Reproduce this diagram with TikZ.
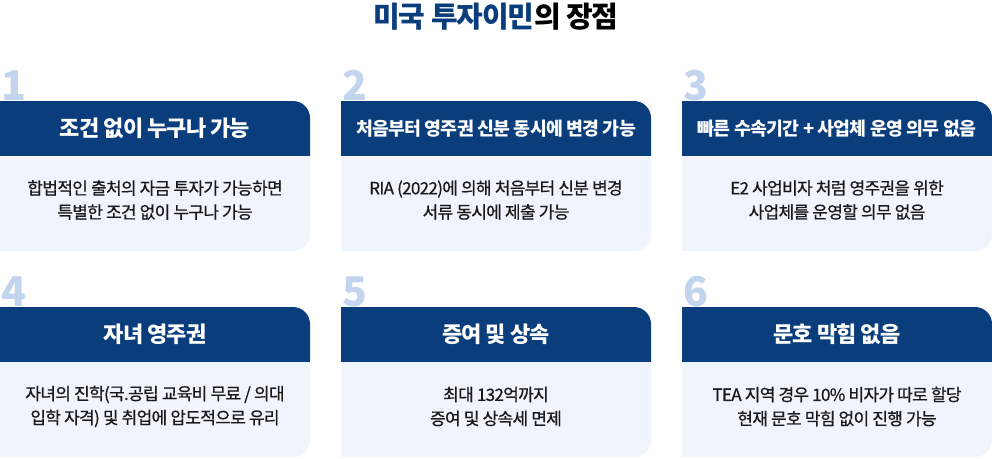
\documentclass[tikz,border=0pt]{standalone}
\usepackage{fontspec}
\setmainfont{Noto Sans CJK KR}[LetterSpace=-4]
\usepackage{tikz}
\usepackage{color}
\usetikzlibrary{positioning}

\definecolor{navy}{RGB}{10,61,124}
\definecolor{paleblue}{RGB}{240,245,253}
\definecolor{numblue}{RGB}{195,212,238}
\definecolor{inkgray}{RGB}{25,25,25}

\tikzset{
  headfill/.style={fill=navy},
  bodyfill/.style={fill=paleblue},
  cardnum/.style={text=numblue, font=\bfseries\fontsize{30.75}{30.75}\selectfont, inner sep=0pt, anchor=base west},
  headtext/.style={text=white, font=\bfseries\fontsize{16.5}{18}\selectfont, inner sep=0.75pt},
  headsmall/.style={headtext, font=\bfseries\fontsize{13.75}{18}\selectfont},
  bodytext/.style={text=inkgray, align=center, font=\fontsize{12.75}{18}\selectfont\addfontfeature{FakeBold=0.7}, inner sep=0.75pt}
}

\begin{document}
\begin{tikzpicture}[x=0.75pt,y=0.75pt,yscale=-1,xscale=1]
\useasboundingbox (0,0) rectangle (992,458);

% Title
\node[inner sep=0.75pt, font=\bfseries\fontsize{21.75}{24}\selectfont] (title) at (496,17) {\textcolor{navy}{미국 투자이민}\textcolor{black}{의 장점}};

%Shape: Card 1
\fill[headfill] (0,156) -- (0,101) -- (293,101) arc[start angle=-90, end angle=0, radius=17] -- (310,156) -- cycle;
\fill[bodyfill] (0,156) -- (310,156) -- (310,234) arc[start angle=0, end angle=90, radius=17] -- (0,251) -- cycle;
%Shape: Card 2
\fill[headfill] (341,156) -- (341,101) -- (634,101) arc[start angle=-90, end angle=0, radius=17] -- (651,156) -- cycle;
\fill[bodyfill] (341,156) -- (651,156) -- (651,234) arc[start angle=0, end angle=90, radius=17] -- (341,251) -- cycle;
%Shape: Card 3
\fill[headfill] (682,156) -- (682,101) -- (975,101) arc[start angle=-90, end angle=0, radius=17] -- (992,156) -- cycle;
\fill[bodyfill] (682,156) -- (992,156) -- (992,234) arc[start angle=0, end angle=90, radius=17] -- (682,251) -- cycle;
%Shape: Card 4
\fill[headfill] (0,362) -- (0,307) -- (293,307) arc[start angle=-90, end angle=0, radius=17] -- (310,362) -- cycle;
\fill[bodyfill] (0,362) -- (310,362) -- (310,440) arc[start angle=0, end angle=90, radius=17] -- (0,457) -- cycle;
%Shape: Card 5
\fill[headfill] (341,362) -- (341,307) -- (634,307) arc[start angle=-90, end angle=0, radius=17] -- (651,362) -- cycle;
\fill[bodyfill] (341,362) -- (651,362) -- (651,440) arc[start angle=0, end angle=90, radius=17] -- (341,457) -- cycle;
%Shape: Card 6
\fill[headfill] (682,362) -- (682,307) -- (975,307) arc[start angle=-90, end angle=0, radius=17] -- (992,362) -- cycle;
\fill[bodyfill] (682,362) -- (992,362) -- (992,440) arc[start angle=0, end angle=90, radius=17] -- (682,457) -- cycle;

% Text Node
\node[cardnum] (num1) at (1,100) {1};
\node[headtext] (head1) at (155,128.5) {조건 없이 누구나 가능};
\node[bodytext] (body1) at (155,200) {합법적인 출처의 자금 투자가 가능하면\\특별한 조건 없이 누구나 가능};
% Text Node
\node[cardnum] (num2) at (342,100) {2};
\node[headsmall] (head2) at (496,128.5) {처음부터 영주권 신분 동시에 변경 가능};
\node[bodytext] (body2) at (496,200) {RIA (2022)에 의해 처음부터 신분 변경\\서류 동시에 제출 가능};
% Text Node
\node[cardnum] (num3) at (683,100) {3};
\node[headsmall] (head3) at (837,128.5) {빠른 수속기간 + 사업체 운영 의무 없음};
\node[bodytext] (body3) at (837,200) {E2 사업비자 처럼 영주권을 위한\\사업체를 운영할 의무 없음};
% Text Node
\node[cardnum] (num4) at (1,306) {4};
\node[headtext] (head4) at (155,334.5) {자녀 영주권};
\node[bodytext] (body4) at (155,406.5) {자녀의 진학(국.공립 교육비 무료 / 의대\\입학 자격) 및 취업에 압도적으로 유리};
% Text Node
\node[cardnum] (num5) at (342,306) {5};
\node[headtext] (head5) at (496,334.5) {증여 및 상속};
\node[bodytext] (body5) at (496,406.5) {최대 132억까지\\증여 및 상속세 면제};
% Text Node
\node[cardnum] (num6) at (683,306) {6};
\node[headtext] (head6) at (837,334.5) {문호 막힘 없음};
\node[bodytext] (body6) at (837,406.5) {TEA 지역 경우 10\% 비자가 따로 할당\\현재 문호 막힘 없이 진행 가능};

\end{tikzpicture}
\end{document}
